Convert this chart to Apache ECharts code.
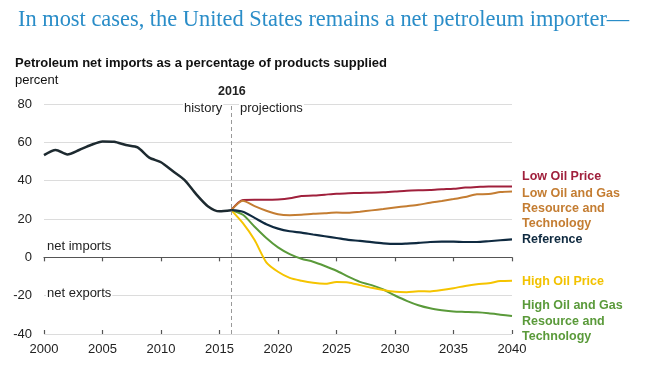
<!DOCTYPE html>
<html><head><meta charset="utf-8">
<script src="https://cdn.jsdelivr.net/npm/echarts@6/dist/echarts.min.js"></script>
<style>html,body{margin:0;padding:0;background:#fff}#c{width:645px;height:378px}</style>
</head><body><div id="c"></div>
<script>
const histYears = [2000,2001,2002,2003,2004,2005,2006,2007,2008,2009,2010,2011,2012,2013,2014,2015,2016];
const history = [53.3,56,53.7,56,58.6,60.5,60.3,58.6,57.4,52,49.6,45,40.4,33,26.7,24,24.6];
const projYears = [2016,2017,2018,2019,2020,2021,2022,2023,2024,2025,2026,2027,2028,2029,2030,2031,2032,2033,2034,2035,2036,2037,2038,2039,2040];
const lowOilPrice = [24.6,29.9,30,30,30.2,30.8,32,32.2,32.7,33.2,33.4,33.6,33.7,33.9,34.3,34.8,35,35.1,35.5,35.8,36.4,36.7,37,37,37];
const lowOilGas = [24.6,29.5,26.7,24.3,22.5,22,22.2,22.7,23,23.4,23.2,23.8,24.5,25.2,26,26.7,27.4,28.5,29.4,30.4,31.5,32.9,33,34.1,34.4];
const reference = [24.6,23.8,20.6,17.3,15,13.6,12.9,11.9,11,10.1,9.1,8.6,7.9,7.3,7,7.2,7.5,8,8.2,8.2,8,8,8.4,8.9,9.4];
const highOilPrice = [24.6,17.8,9,-2.6,-7.5,-10.7,-12.2,-13.3,-13.8,-12.9,-13.1,-14.5,-15.9,-17.1,-18,-18.2,-17.7,-17.8,-17.1,-16.1,-14.9,-14,-13.5,-12.4,-12.2];
const highOilGas = [24.6,22.2,16,10.1,5.2,1.7,-0.7,-2.3,-4.5,-7,-10.1,-12.8,-14.5,-16.8,-19.9,-22.7,-25,-26.6,-27.6,-28.3,-28.5,-28.7,-29.2,-29.9,-30.6];
const xTicks = [2000,2005,2010,2015,2020,2025,2030,2035,2040];
const yTicks = [-40,-20,0,20,40,60,80];
const dividerYear = 2016;

const pair = (xs, ys) => xs.map((x, i) => [x, ys[i]]);
const chart = echarts.init(document.getElementById('c'), null, {renderer: 'canvas'});
const F = 'Liberation Sans, Arial, sans-serif';
const C = {low:'#a0203c', lowG:'#c47d32', ref:'#0f2a40', high:'#f5c400', highG:'#5a9a3a', hist:'#1d2a30'};
function line(name, xs, ys, color, w, z) {
  return {name, type:'line', data: pair(xs, ys), showSymbol:false, smooth:0.25,
    lineStyle:{color, width:w}, itemStyle:{color}, z: z||3, animation:false};
}
const series = [
  line('Low Oil Price', projYears, lowOilPrice, C.low, 2),
  line('Low Oil and Gas', projYears, lowOilGas, C.lowG, 2),
  line('High Oil and Gas', projYears, highOilGas, C.highG, 2),
  line('High Oil Price', projYears, highOilPrice, C.high, 2),
  line('Reference', projYears, reference, C.ref, 2.2, 4),
  line('History', histYears, history, C.hist, 2.5, 5)
];
series[0].markLine = {silent:true, symbol:'none', label:{show:false},
  lineStyle:{color:'#999', type:[4,3], width:1},
  data:[{xAxis:dividerYear}], animation:false};

const labelX = 522;
const legendFont = 'bold 12.5px ' + F;
const txt = (text, left, top, font, fill, extra) => ({type:'text', left, top, z:10,
  style:Object.assign({text, font, fill}, extra||{})});
const bg = {backgroundColor:'#fff', padding:[0,1]};
chart.setOption({
  animation:false,
  grid:{left:44, right:133, top:104, bottom:44, containLabel:false},
  xAxis:[
    {type:'value', min:xTicks[0], max:xTicks[xTicks.length-1], interval:5, position:'bottom',
     axisLine:{show:false, onZero:false}, axisTick:{show:false}, splitLine:{show:false},
     axisLabel:{color:'#222', fontFamily:F, fontSize:13, margin:9, formatter:v=>String(v)}},
    {type:'value', min:xTicks[0], max:xTicks[xTicks.length-1], interval:5, position:'bottom',
     axisLine:{show:true, onZero:true, lineStyle:{color:'#555', width:1.2}},
     axisTick:{show:true, length:4, lineStyle:{color:'#555', width:1.2}}, axisLabel:{show:false}, splitLine:{show:false}},
    {type:'value', min:xTicks[0], max:xTicks[xTicks.length-1], interval:5, position:'bottom',
     axisLine:{show:false, onZero:true},
     axisTick:{show:true, inside:true, length:4, lineStyle:{color:'#555', width:1.2}}, axisLabel:{show:false}, splitLine:{show:false}}
  ],
  yAxis:{type:'value', min:yTicks[0], max:yTicks[yTicks.length-1], interval:20,
    axisLine:{show:false}, axisTick:{show:false},
    splitLine:{lineStyle:{color:'#dcdcdc', width:1}},
    axisLabel:{color:'#222', fontFamily:F, fontSize:13, margin:12}},
  series,
  graphic:[
    txt('In most cases, the United States remains a net petroleum importer\u2014', 18, 9, '22.4px Liberation Serif, Times New Roman, serif', '#2a8dc8'),
    txt('Petroleum net imports as a percentage of products supplied', 15, 57, 'bold 13px '+F, '#111'),
    txt('percent', 15, 74, '13px '+F, '#111'),
    txt('2016', 218, 85, 'bold 12.5px '+F, '#222'),
    txt('history', 183, 102, '13px '+F, '#222', bg),
    txt('projections', 239, 102, '13px '+F, '#222', bg),
    txt('net imports', 46, 240, '13px '+F, '#222', bg),
    txt('net exports', 46, 287, '13px '+F, '#222', bg),
    txt('Low Oil Price', labelX, 170, legendFont, C.low),
    txt('Low Oil and Gas\nResource and\nTechnology', labelX, 186, legendFont, C.lowG, {lineHeight:15}),
    txt('Reference', labelX, 233, legendFont, C.ref),
    txt('High Oil Price', labelX, 275, legendFont, '#f2c200'),
    txt('High Oil and Gas\nResource and\nTechnology', labelX, 298, legendFont, C.highG, {lineHeight:15.5})
  ]
});
</script></body></html>
